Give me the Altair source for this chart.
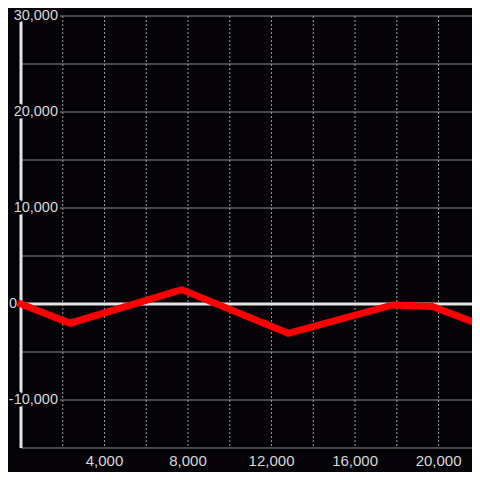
import altair as alt
import pandas as pd

# ---- data ----
x_vals = [0, 2350, 7700, 12800, 17800, 19700, 22000]
y_vals = [0, -2000, 1500, -3050, -100, -250, -2150]

y_grid = [-15000, -10000, -5000, 5000, 10000, 15000, 20000, 25000, 30000]
y_ticks = [-10000, 10000, 20000, 30000]
y_labels = ["-10,000", "10,000", "20,000", "30,000"]
zero_tick = [0]
zero_label = ["0"]

x_grid = [2000, 4000, 6000, 8000, 10000, 12000, 14000, 16000, 18000, 20000]
x_ticks = [4000, 8000, 12000, 16000, 20000]
x_labels = ["4,000", "8,000", "12,000", "16,000", "20,000"]

# ---- styling ----
BG = "#050308"
GRID = "#8a8a8a"
DOT = "#9a9a9a"
AXIS = "#e4e4e4"
TXT = "#d8d8d8"
FONT = "Liberation Sans"
W, H = 451, 432

xs = alt.Scale(domain=[0, 21600], nice=False, zero=False)
ys = alt.Scale(domain=[-15000, 30000], nice=False, zero=False)

line_df = pd.DataFrame({"x": x_vals, "y": y_vals})
hgrid_df = pd.DataFrame({"v": y_grid})
vgrid_df = pd.DataFrame({"v": x_grid})
ylab_df = pd.DataFrame({"v": y_ticks, "t": y_labels})
zlab_df = pd.DataFrame({"v": zero_tick, "t": zero_label})
xlab_df = pd.DataFrame({"v": x_ticks, "t": x_labels})
zero_df = pd.DataFrame({"v": [0]})

hgrid = alt.Chart(hgrid_df).mark_rule(color=GRID, strokeWidth=1).encode(
    y=alt.Y("v:Q", scale=ys, axis=None), x=alt.value(0), x2=alt.value(W)
)
vgrid = alt.Chart(vgrid_df).mark_rule(color=DOT, strokeWidth=1, strokeDash=[2, 2]).encode(
    x=alt.X("v:Q", scale=xs, axis=None), y=alt.value(0), y2=alt.value(H)
)
zero_line = alt.Chart(zero_df).mark_rule(color=AXIS, strokeWidth=3).encode(
    y=alt.Y("v:Q", scale=ys, axis=None), x=alt.value(0), x2=alt.value(W)
)
axis_line = alt.Chart(zero_df).mark_rule(color=AXIS, strokeWidth=3).encode(
    x=alt.X("v:Q", scale=xs, axis=None), y=alt.value(0), y2=alt.value(H)
)
ylab_halo = alt.Chart(ylab_df).mark_text(
    align="right", baseline="middle", font=FONT, fontSize=14.5,
    color=BG, stroke=BG, strokeWidth=5, strokeJoin="round"
).encode(y=alt.Y("v:Q", scale=ys, axis=None), x=alt.value(37), text="t:N")
ylab = alt.Chart(ylab_df).mark_text(
    align="right", baseline="middle", font=FONT, fontSize=14.5, color=TXT
).encode(y=alt.Y("v:Q", scale=ys, axis=None), x=alt.value(37), text="t:N")
zlab = alt.Chart(zlab_df).mark_text(
    align="right", baseline="middle", font=FONT, fontSize=14.5, color=TXT
).encode(y=alt.Y("v:Q", scale=ys, axis=None), x=alt.value(-4), text="t:N")
xlab = alt.Chart(xlab_df).mark_text(
    align="center", baseline="middle", font=FONT, fontSize=15, color=TXT
).encode(x=alt.X("v:Q", scale=xs, axis=None), y=alt.value(445), text="t:N")
series = alt.Chart(line_df).mark_line(
    color="#ff0000", strokeWidth=7, strokeCap="square", strokeJoin="miter"
).encode(
    x=alt.X("x:Q", scale=xs, axis=None),
    y=alt.Y("y:Q", scale=ys, axis=None),
)

chart = alt.layer(
    hgrid, vgrid, zero_line, axis_line, ylab_halo, ylab, zlab, xlab, series
).properties(
    width=W, height=H,
    padding={"left": 13, "top": 8, "right": 0, "bottom": 24},
    autosize=alt.AutoSizeParams(type="none"),
    background=BG,
).configure_view(stroke=None)

chart.save("out.html", embed_options={"renderer": "svg", "actions": False})
